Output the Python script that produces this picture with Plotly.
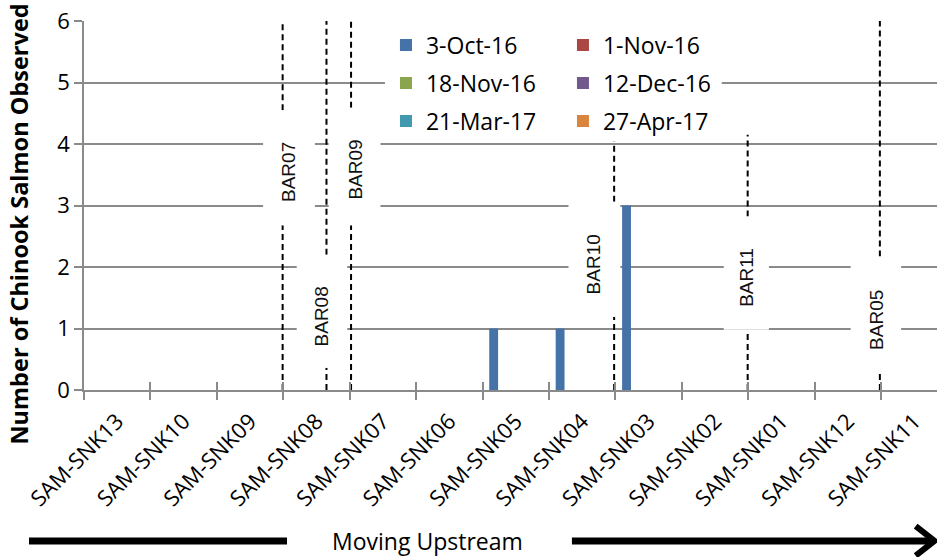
import plotly.graph_objects as go

# ---- data -------------------------------------------------------------
sites = ["SAM-SNK13", "SAM-SNK10", "SAM-SNK09", "SAM-SNK08", "SAM-SNK07",
         "SAM-SNK06", "SAM-SNK05", "SAM-SNK04", "SAM-SNK03", "SAM-SNK02",
         "SAM-SNK01", "SAM-SNK12", "SAM-SNK11"]

survey_dates = ["3-Oct-16", "1-Nov-16", "18-Nov-16",
                "12-Dec-16", "21-Mar-17", "27-Apr-17"]

counts_3_oct_16 = [0, 0, 0, 0, 0, 0, 1, 1, 3, 0, 0, 0, 0]
counts_1_nov_16 = [0, 0, 0, 0, 0, 0, 0, 0, 0, 0, 0, 0, 0]
counts_18_nov_16 = [0, 0, 0, 0, 0, 0, 0, 0, 0, 0, 0, 0, 0]
counts_12_dec_16 = [0, 0, 0, 0, 0, 0, 0, 0, 0, 0, 0, 0, 0]
counts_21_mar_17 = [0, 0, 0, 0, 0, 0, 0, 0, 0, 0, 0, 0, 0]
counts_27_apr_17 = [0, 0, 0, 0, 0, 0, 0, 0, 0, 0, 0, 0, 0]

y_ticks = [0, 1, 2, 3, 4, 5, 6]

# barriers along the river, in site-index units
barrier_names = ["BAR07", "BAR08", "BAR09", "BAR10", "BAR11", "BAR05"]
barrier_x = [2.49, 3.15, 3.52, 7.48, 9.49, 11.48]

# ---- styling ----------------------------------------------------------
series = [counts_3_oct_16, counts_1_nov_16, counts_18_nov_16,
          counts_12_dec_16, counts_21_mar_17, counts_27_apr_17]
colors = ["#4572A7", "#AA4643", "#89A54E", "#71588F", "#4198AF", "#DB843D"]
legend_ids = ["legend", "legend", "legend2", "legend2", "legend3", "legend3"]

GRID = "#8a8a8a"
FONT = "Open Sans"

# label placement for each barrier: line top, gap in the line (lo, hi),
# label centre (x, y) and half-width of the white label box
barrier_layout = [
    dict(top=6.0, lo=2.68, hi=4.55, tx=2.586, ty=3.545, hw=0.39),
    dict(top=6.0, lo=0.36, hi=2.20, tx=3.082, ty=1.195, hw=0.38),
    dict(top=6.0, lo=2.68, hi=4.59, tx=3.573, ty=3.577, hw=0.39),
    dict(top=4.04, lo=1.19, hi=3.06, tx=7.183, ty=2.049, hw=0.39),
    dict(top=4.15, lo=0.98, hi=2.82, tx=9.470, ty=1.829, hw=0.34),
    dict(top=6.0, lo=0.28, hi=2.17, tx=11.420, ty=1.138, hw=0.38),
]

fig = go.Figure()
x_idx = list(range(len(sites)))
for name, vals, col, lg in zip(survey_dates, series, colors, legend_ids):
    fig.add_trace(go.Bar(x=x_idx, y=vals, name=name, marker_color=col,
                         marker_line_width=0, legend=lg))

# empty trace so the overlaid tick axis gets drawn
fig.add_trace(go.Scatter(x=[None], y=[None], xaxis="x2", yaxis="y",
                         showlegend=False, hoverinfo="skip"))

shapes = []
annotations = []

# white backing behind the legend block
shapes.append(dict(type="rect", xref="x", yref="y", x0=4.03, x1=9.10,
                   y0=4.07, y1=5.93, fillcolor="white", line_width=0,
                   layer="between"))

for name, bx, lay in zip(barrier_names, barrier_x, barrier_layout):
    dash = dict(color="black", width=2, dash="6px,4px")
    shapes.append(dict(type="line", xref="x", yref="y", x0=bx, x1=bx,
                       y0=lay["hi"], y1=lay["top"], line=dash, layer="between"))
    shapes.append(dict(type="line", xref="x", yref="y", x0=bx, x1=bx,
                       y0=0, y1=lay["lo"], line=dash, layer="between"))
    shapes.append(dict(type="rect", xref="x", yref="y",
                       x0=lay["tx"] - lay["hw"], x1=lay["tx"] + lay["hw"],
                       y0=lay["lo"], y1=lay["hi"], fillcolor="white",
                       line_width=0, layer="between"))
    annotations.append(dict(x=lay["tx"], y=lay["ty"], xref="x", yref="y",
                            xanchor="center", yanchor="middle",
                            text=name, textangle=-90, showarrow=False,
                            font=dict(family="Liberation Sans", size=19,
                                      color="#111111")))

# "Moving Upstream" arrow under the axis
ay = -0.409
shapes.append(dict(type="line", xref="paper", yref="paper", x0=-0.0645,
                   x1=0.238, y0=ay, y1=ay, line=dict(color="black", width=7)))
shapes.append(dict(type="line", xref="paper", yref="paper", x0=0.572,
                   x1=0.992, y0=ay, y1=ay, line=dict(color="black", width=7)))
shapes.append(dict(type="path", xref="paper", yref="paper",
                   path="M 0.975 -0.369 L 0.997 -0.409 L 0.975 -0.449",
                   line=dict(color="black", width=6)))
annotations.append(dict(x=0.403, y=ay, xref="paper", yref="paper",
                        xanchor="center", yanchor="middle",
                        text="Moving Upstream", showarrow=False,
                        font=dict(family=FONT, size=23, color="black")))

# y-axis title
annotations.append(dict(x=-0.0762, y=0.4485, xref="paper", yref="paper",
                        xanchor="center", yanchor="middle",
                        text="<b>Number of Chinook Salmon Observed</b>",
                        textangle=-90, showarrow=False,
                        font=dict(family=FONT, size=23.5, color="black")))

boundaries = [i - 0.5 for i in range(len(sites) + 1)]

fig.update_layout(
    width=937, height=557,
    margin=dict(l=84, r=0, t=21, b=167),
    plot_bgcolor="white", paper_bgcolor="white",
    barmode="group", bargap=0.2, bargroupgap=0,
    font=dict(family=FONT, size=22, color="black"),
    xaxis=dict(range=[-0.5, 12.34], tickmode="array", tickvals=x_idx,
               ticktext=sites, tickangle=-45, ticks="outside", ticklen=8,
               tickcolor="rgba(0,0,0,0)", showgrid=False, zeroline=False,
               showline=True, linecolor=GRID, linewidth=1.5,
               tickfont=dict(family=FONT, size=22, color="black"),
               minor=dict(tickmode="array", tickvals=boundaries,
                          ticks="outside", ticklen=8, tickcolor=GRID,
                          tickwidth=1.5, showgrid=False)),
    xaxis2=dict(overlaying="x", matches="x", anchor="y", side="bottom",
                tickmode="array", tickvals=boundaries, ticks="inside",
                ticklen=8, tickcolor=GRID, tickwidth=1.5,
                showticklabels=False, showgrid=False, zeroline=False,
                showline=False),
    yaxis=dict(range=[0, 6], tickmode="array", tickvals=y_ticks,
               ticks="outside", ticklen=8, tickcolor=GRID, tickwidth=1.5,
               showgrid=True, gridcolor=GRID, gridwidth=1.5, zeroline=False,
               showline=True, linecolor=GRID, linewidth=1.5,
               tickfont=dict(family=FONT, size=22, color="black")),
    shapes=shapes,
    annotations=annotations,
)

legend_common = dict(orientation="h", xanchor="left", yanchor="middle",
                     x=0.354, bgcolor="rgba(0,0,0,0)",
                     font=dict(family=FONT, size=23, color="black"),
                     entrywidth=132, entrywidthmode="pixels",
                     traceorder="normal")
fig.update_layout(
    legend=dict(legend_common, y=0.935),
    legend2=dict(legend_common, y=0.832),
    legend3=dict(legend_common, y=0.729),
)

fig.write_html("out.html")
